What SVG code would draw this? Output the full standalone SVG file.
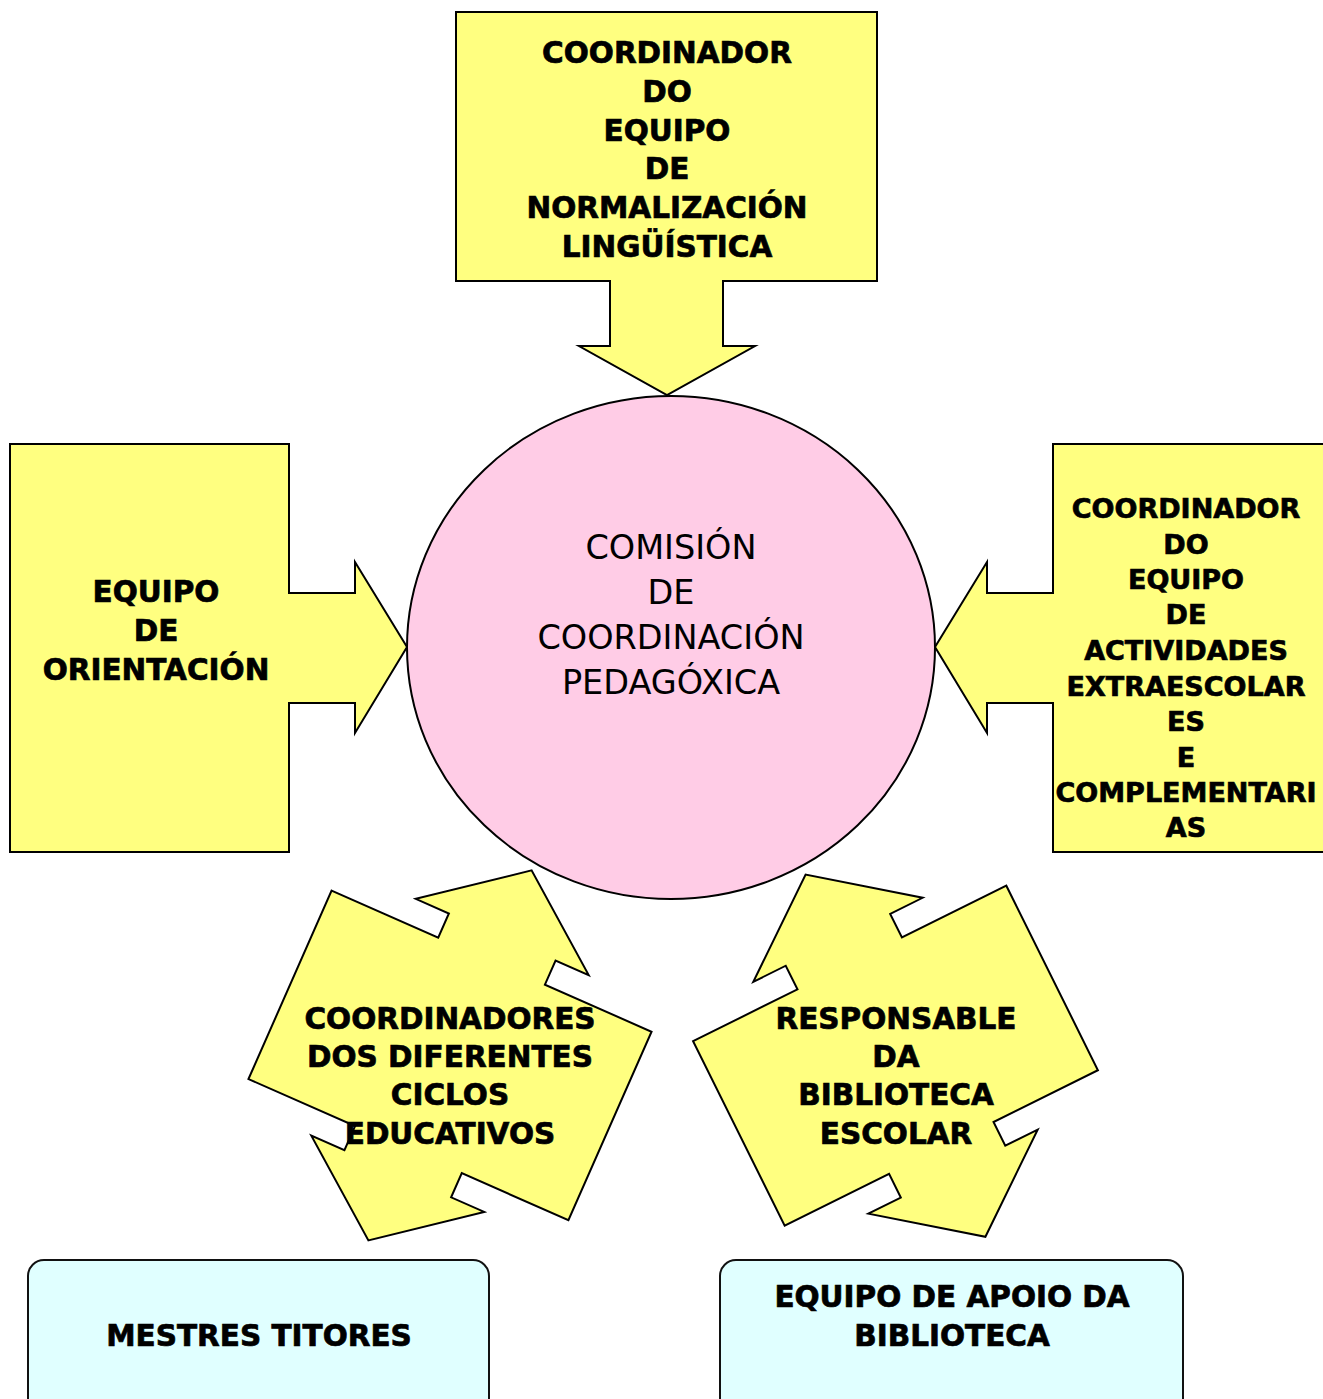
<svg xmlns="http://www.w3.org/2000/svg" width="1323" height="1399" viewBox="0 0 1323 1399">
<style>
.y{fill:#FFFF80;stroke:#000;stroke-width:2;stroke-linejoin:miter}
.c{fill:#E0FFFF;stroke:#111;stroke-width:2}
.p{fill:#FFCCE6;stroke:#000;stroke-width:2}
.b{font-family:"DejaVu Sans",Verdana,sans-serif;font-weight:bold;font-size:29.5px;fill:#000;stroke:#000;stroke-width:0.7;text-anchor:middle}
.s{font-size:27px}
.r{font-family:"DejaVu Sans",Verdana,sans-serif;font-size:33.5px;fill:#000;text-anchor:middle}
</style>
<defs>
<path id="dbl" d="M-174.85,-103 H-58.3 V-129.4 H-94.5 L0,-202.2 L94.5,-129.4 H58.3 V-103 H174.85 V103 H58.3 V129.4 H94.5 L0,202.2 L-94.5,129.4 H-58.3 V103 H-174.85 Z"/>
</defs>
<rect width="1323" height="1399" fill="#fff"/>
<g id="connectors"/>
<g id="comision">
<ellipse class="p" cx="671" cy="647.5" rx="264" ry="251.5"/>
<text class="r" x="671" y="559">COMISIÓN</text>
<text class="r" x="671" y="604">DE</text>
<text class="r" x="671" y="649">COORDINACIÓN</text>
<text class="r" x="671" y="694">PEDAGÓXICA</text>
</g>
<g id="normalizacion">
<path class="y" d="M456,12 H877 V281 H723 V346 H755 L667,395 L579,346 H610 V281 H456 Z"/>
<text class="b" x="667" y="63">COORDINADOR</text>
<text class="b" x="667" y="102">DO</text>
<text class="b" x="667" y="141">EQUIPO</text>
<text class="b" x="667" y="179">DE</text>
<text class="b" x="667" y="218">NORMALIZACIÓN</text>
<text class="b" x="667" y="257">LINGÜÍSTICA</text>
</g>
<g id="orientacion">
<path class="y" d="M10,444 H289 V593 H355 V562 L407,647 L355,733 V703 H289 V852 H10 Z"/>
<text class="b" x="156" y="602">EQUIPO</text>
<text class="b" x="156" y="641">DE</text>
<text class="b" x="156" y="680">ORIENTACIÓN</text>
</g>
<g id="actividades">
<path class="y" d="M1053,444 H1330 V852 H1053 V703 H987 V733 L935,647 L987,562 V593 H1053 Z"/>
<text class="b s" x="1186" y="518">COORDINADOR</text>
<text class="b s" x="1186" y="554">DO</text>
<text class="b s" x="1186" y="589">EQUIPO</text>
<text class="b s" x="1186" y="624">DE</text>
<text class="b s" x="1186" y="660">ACTIVIDADES</text>
<text class="b s" x="1186" y="696">EXTRAESCOLAR</text>
<text class="b s" x="1186" y="731">ES</text>
<text class="b s" x="1186" y="767">E</text>
<text class="b s" x="1186" y="802">COMPLEMENTARI</text>
<text class="b s" x="1186" y="837">AS</text>
</g>
<g id="ciclos">
<use href="#dbl" class="y" transform="translate(450,1055.4) rotate(23.8)"/>
<text class="b" x="450" y="1029">COORDINADORES</text>
<text class="b" x="450" y="1067">DOS DIFERENTES</text>
<text class="b" x="450" y="1105">CICLOS</text>
<text class="b" x="450" y="1144">EDUCATIVOS</text>
</g>
<g id="biblioteca">
<use href="#dbl" class="y" transform="translate(895.5,1055.7) rotate(-26.4)"/>
<text class="b" x="896" y="1029">RESPONSABLE</text>
<text class="b" x="896" y="1067">DA</text>
<text class="b" x="896" y="1105">BIBLIOTECA</text>
<text class="b" x="896" y="1144">ESCOLAR</text>
</g>
<g id="titores">
<rect class="c" x="28" y="1260" width="461" height="170" rx="16" ry="16"/>
<text class="b" x="259" y="1346">MESTRES TITORES</text>
</g>
<g id="apoio">
<rect class="c" x="720" y="1260" width="463" height="170" rx="16" ry="16"/>
<text class="b" x="952" y="1307">EQUIPO DE APOIO DA</text>
<text class="b" x="952" y="1346">BIBLIOTECA</text>
</g>
</svg>
